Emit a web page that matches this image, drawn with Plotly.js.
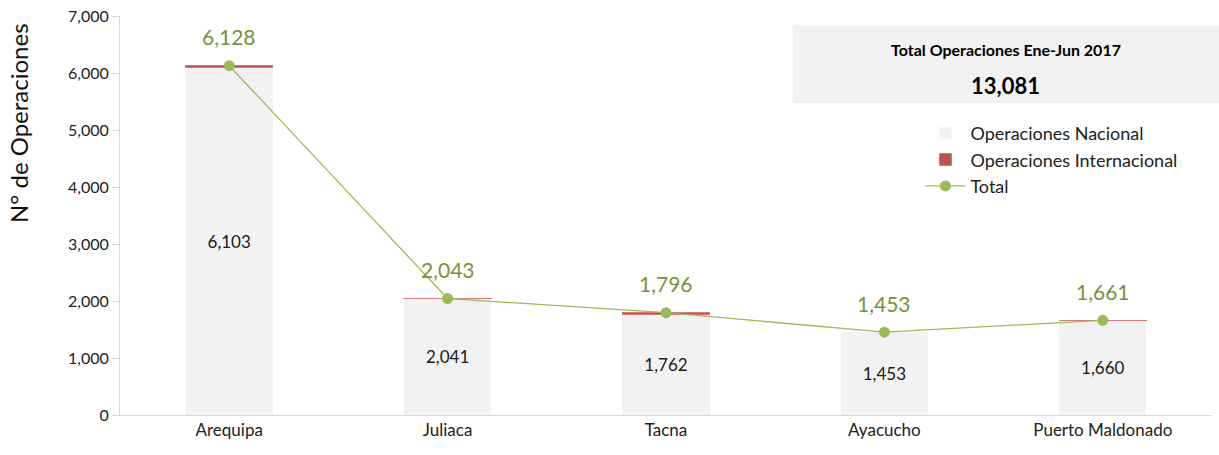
<!DOCTYPE html>
<html>
<head>
<meta charset="utf-8">
<script src="https://cdn.plot.ly/plotly-3.0.1.min.js"></script>
<style>html,body{margin:0;padding:0;background:#fff;}#chart{width:1219px;height:455px;}</style>
</head>
<body>
<div id="chart"></div>
<script>
const categories = ['Arequipa', 'Juliaca', 'Tacna', 'Ayacucho', 'Puerto Maldonado'];
const nacional = [6103, 2041, 1762, 1453, 1660];
const internacional = [25, 2, 34, null, 1];
const total = [6128, 2043, 1796, 1453, 1661];
const boxTitle = 'Total Operaciones Ene-Jun 2017';
const boxValue = '13,081';
const yTitle = 'N° de Operaciones';

const fmt = v => v.toLocaleString('en-US');
const FONT = 'Lato, "Open Sans", sans-serif';

const traces = [
  {
    type: 'bar', name: 'Operaciones Nacional', x: categories, y: nacional,
    marker: {color: '#f2f2f2'},
    text: nacional.map(fmt), textposition: 'inside', insidetextanchor: 'middle',
    textfont: {family: FONT, size: 17, color: '#1a1a1a'},
    hoverinfo: 'skip'
  },
  {
    type: 'bar', name: 'Operaciones Internacional', x: categories, y: internacional,
    marker: {color: '#c0504d', line: {color: '#d9787a', width: 1}},
    textposition: 'none', hoverinfo: 'skip'
  },
  {
    type: 'scatter', mode: 'lines+markers', name: 'Total', x: categories, y: total,
    line: {color: '#9bbb59', width: 1.3},
    marker: {color: '#9bbb59', size: 11},
    hoverinfo: 'skip'
  }
];

const annotations = categories.map((c, i) => ({
  x: c, y: total[i], xref: 'x', yref: 'y', text: fmt(total[i]),
  showarrow: false, yshift: 29, font: {family: FONT, size: 21, color: '#77933c'}
}));
annotations.push({
  xref: 'paper', yref: 'paper', x: 0.811, y: 0.915, xanchor: 'center', yanchor: 'middle',
  text: '<b>' + boxTitle + '</b>',
  showarrow: false, font: {family: FONT, size: 16, color: '#000'}
});
annotations.push({
  xref: 'paper', yref: 'paper', x: 0.811, y: 0.825, xanchor: 'center', yanchor: 'middle',
  text: '<b>' + boxValue + '</b>',
  showarrow: false, font: {family: FONT, size: 22, color: '#000'}
});
annotations.push({
  xref: 'paper', yref: 'paper', x: -0.093, y: 0.733, xanchor: 'center', yanchor: 'middle',
  text: yTitle, textangle: -90,
  showarrow: false, font: {family: FONT, size: 24, color: '#111'}
});

const layout = {
  width: 1219, height: 455,
  margin: {l: 120, r: 7, t: 16, b: 40},
  paper_bgcolor: '#fff', plot_bgcolor: '#fff',
  barmode: 'stack', bargap: 0.6,
  showlegend: true,
  legend: {
    x: 0.733, y: 0.752, xanchor: 'left', yanchor: 'top',
    font: {family: FONT, size: 18, color: '#222'},
    bgcolor: 'rgba(0,0,0,0)', traceorder: 'normal', itemwidth: 40
  },
  xaxis: {
    showline: true, linecolor: '#d9d9d9', linewidth: 1,
    ticks: '', tickfont: {family: FONT, size: 17, color: '#222'},
    showgrid: false, fixedrange: true
  },
  yaxis: {
    range: [0, 7000], dtick: 1000, tickformat: ',',
    showline: true, linecolor: '#d9d9d9', linewidth: 1,
    ticks: 'outside', ticklen: 7, tickcolor: '#d9d9d9',
    tickfont: {family: FONT, size: 16, color: '#222'},
    showgrid: false, zeroline: false
  },
  shapes: [{
    type: 'rect', xref: 'paper', yref: 'paper', x0: 0.616, x1: 1.01, y0: 0.782, y1: 0.977,
    fillcolor: '#f2f2f2', line: {width: 0}, layer: 'below'
  }],
  annotations: annotations
};

Plotly.newPlot('chart', traces, layout, {displayModeBar: false, staticPlot: true});
</script>
</body>
</html>
